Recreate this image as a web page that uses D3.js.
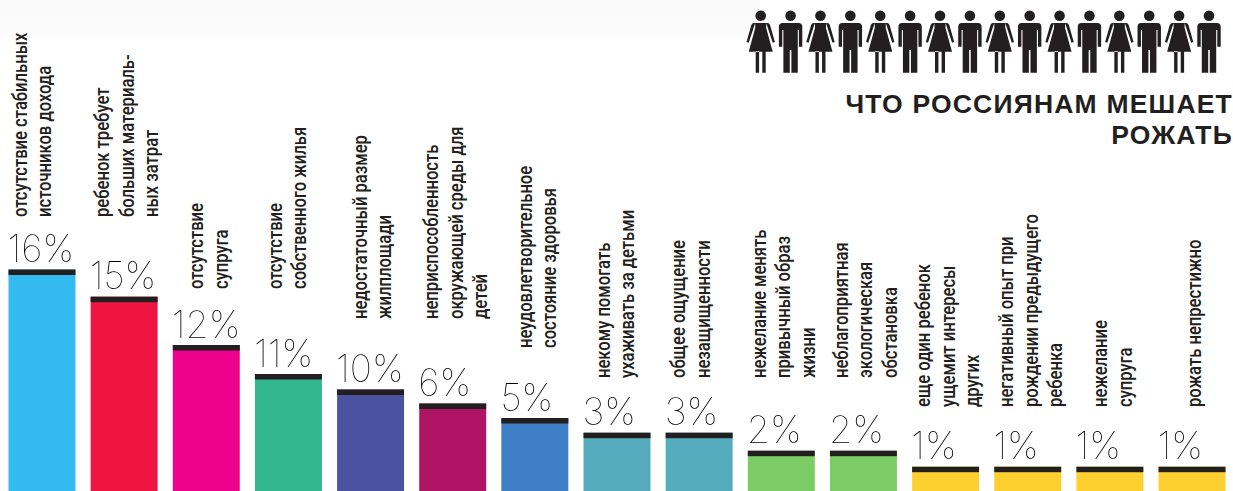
<!DOCTYPE html>
<html lang="ru">
<head>
<meta charset="utf-8">
<script src="https://cdn.jsdelivr.net/npm/d3@7"></script>
<style>
  html, body { margin: 0; padding: 0; background: #fff; }
  svg { display: block; }
  .reason { font-family: "Roboto", sans-serif; font-weight: 500; font-size: 20.5px; fill: #231f20; }
  .pct { font-family: "Inter", "Roboto", sans-serif; font-weight: 100; font-size: 37.5px; fill: #000; filter: grayscale(1); }
  .title { font-family: "Liberation Sans", sans-serif; font-weight: 700; font-size: 26.5px; fill: #231f20; letter-spacing: 1.2px; }
</style>
</head>
<body>
<svg id="chart" width="1233" height="491"></svg>
<script>
// Survey results: reasons that keep Russians from having children
const percents = [16, 15, 12, 11, 10, 6, 5, 3, 3, 2, 2, 1, 1, 1, 1];

const reasons = [
  ["отсутствие стабильных", "источников дохода"],
  ["ребенок требует", "больших материаль-", "ных затрат"],
  ["отсутствие", "супруга"],
  ["отсутствие", "собственного жилья"],
  ["недостаточный размер", "жилплощади"],
  ["неприспособленность", "окружающей среды для", "детей"],
  ["неудовлетворительное", "состояние здоровья"],
  ["некому помогать", "ухаживать за детьми"],
  ["общее ощущение", "незащищенности"],
  ["нежелание менять", "привычный образ", "жизни"],
  ["неблагоприятная", "экологическая", "обстановка"],
  ["еще один ребенок", "ущемит интересы", "других"],
  ["негативный опыт при", "рождении предыдущего", "ребенка"],
  ["нежелание", "супруга"],
  ["рожать непрестижно"]
];

const barColors = [
  "#33bbf0", "#ee1540", "#ec008c", "#32b88c", "#4b52a0",
  "#b01565", "#3f7fc8", "#55acbc", "#55acbc", "#7ccc66",
  "#7ccc66", "#fdd030", "#fdd030", "#fdd030", "#fdd030"
];

const titleLines = ["ЧТО РОССИЯНАМ МЕШАЕТ", "РОЖАТЬ"];
const figures = d3.range(16).map(i => (i % 2 ? "man" : "woman"));

// Label placement: where each rotated block starts, and its inset from the bar edge
const labelFloor = [217, 217, 289, 289, 319, 319, 348, 378, 378, 378, 378, 407, 407, 407, 407];
const labelInset = [18.5, 18.5, 30.5, 27, 30, 19, 30.5, 26, 19.5, 18, 18, 18, 19, 31, 42.5];

const svg = d3.select("#chart");
const defs = svg.append("defs");

// Faint grey band behind the top of the page
const haze = defs.append("linearGradient").attr("id", "haze").attr("x1", 0).attr("x2", 0).attr("y1", 0).attr("y2", 1);
haze.append("stop").attr("offset", "0").attr("stop-color", "#f9f9f9");
haze.append("stop").attr("offset", "0.75").attr("stop-color", "#fbfbfb");
haze.append("stop").attr("offset", "1").attr("stop-color", "#ffffff");
svg.append("rect").attr("x", 0).attr("y", 0).attr("width", 760).attr("height", 44).attr("fill", "url(#haze)");

// The printed axis is not proportional, so the scale is piecewise through each labelled level
const y = d3.scaleLinear()
  .domain([1, 2, 3, 5, 6, 10, 11, 12, 15, 16])
  .range([466.7, 450.7, 432.7, 418, 403.5, 389.5, 374, 345, 296.7, 269.5]);

const x = d3.scaleBand()
  .domain(d3.range(percents.length))
  .range([8.5, 1225.5])
  .paddingInner(15.2 / 82.2)
  .paddingOuter(0);

const bottom = 491;
const capHeight = 5.5;

const bars = svg.append("g").selectAll("g")
  .data(percents)
  .join("g")
  .attr("transform", (d, i) => `translate(${x(i)},0)`);

bars.append("rect")
  .attr("y", d => y(d))
  .attr("width", x.bandwidth())
  .attr("height", d => bottom - y(d))
  .attr("fill", (d, i) => barColors[i]);

bars.append("rect")
  .attr("y", d => y(d))
  .attr("width", x.bandwidth())
  .attr("height", capHeight)
  .attr("fill", "#231f20");

bars.append("text")
  .attr("class", "pct")
  .attr("x", -1)
  .attr("y", d => y(d) - 7.5)
  .text(d => d + "%");

// Rotated reason captions in a condensed setting, one text per printed line
const lineStep = 24.4;
const condense = 0.81;
bars.each(function (d, i) {
  const g = d3.select(this);
  reasons[i].forEach((line, k) => {
    g.append("text")
      .attr("class", "reason")
      .attr("transform", `translate(${labelInset[i] + k * lineStep},${labelFloor[i]}) rotate(-90) scale(${condense},1)`)
      .text(line);
  });
});

// Row of restroom-style figures
const figX = d3.scalePoint().domain(d3.range(figures.length)).range([760.7, 1209]);
const figurePaths = {
  woman: "M-5.5,-22 L5.5,-22 L5.5,-17 L12,6.7 L-12,6.7 L-5.5,-17 Z " +
         "M5.5,-22 L7,-22 C8.2,-22 9,-21 9.5,-19.5 L14.2,-3 L12,-2.2 L7,-17.5 Z " +
         "M-5.5,-22 L-7,-22 C-8.2,-22 -9,-21 -9.5,-19.5 L-14.2,-3 L-12,-2.2 L-7,-17.5 Z " +
         "M1.6,6 L5,6 L5,27.7 L1.6,27.7 Z M-1.6,6 L-5,6 L-5,27.7 L-1.6,27.7 Z",
  man: "M-8,-22 L8,-22 C10.5,-22 11.7,-20.5 11.7,-18 L11.7,1.7 L8.3,1.7 L8.3,-15 L7.2,-15 L7.2,27.7 L0.8,27.7 L0.8,5 " +
       "L-0.8,5 L-0.8,27.7 L-7.2,27.7 L-7.2,-15 L-8.3,-15 L-8.3,1.7 L-11.7,1.7 L-11.7,-18 C-11.7,-20.5 -10.5,-22 -8,-22 Z"
};
const people = svg.append("g").selectAll("g")
  .data(figures)
  .join("g")
  .attr("transform", (d, i) => `translate(${figX(i)},45)`)
  .attr("fill", "#231f20");
people.append("circle").attr("cy", -29.3).attr("r", 5.3);
people.append("path").attr("d", d => figurePaths[d]);

// Right-aligned headline
svg.append("g").selectAll("text")
  .data(titleLines)
  .join("text")
  .attr("class", "title")
  .attr("x", 1233)
  .attr("y", (d, i) => 113 + i * 31)
  .attr("text-anchor", "end")
  .text(d => d);
</script>
</body>
</html>
